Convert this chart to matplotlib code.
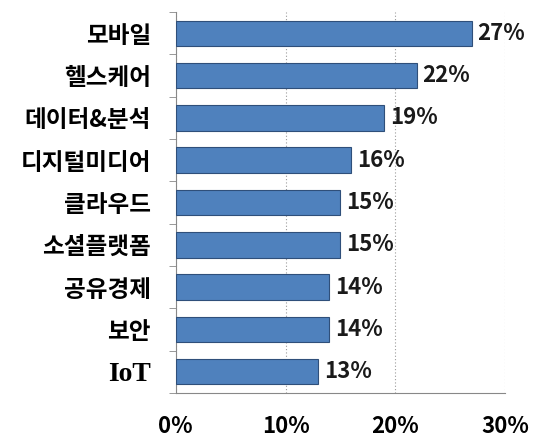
import matplotlib
matplotlib.use("Agg")
import matplotlib.pyplot as plt
import numpy as np

plt.rcParams['font.family'] = ['Noto Sans CJK KR', 'DejaVu Sans']

categories = ["모바일", "헬스케어", "데이터&분석", "디지털미디어", "클라우드",
              "소셜플랫폼", "공유경제", "보안", "IoT"]
values = [27, 22, 19, 16, 15, 15, 14, 14, 13]
x_ticks = [0, 10, 20, 30]
x_tick_labels = ["0%", "10%", "20%", "30%"]

fig = plt.figure(figsize=(5.36, 4.46), dpi=100)
ax = fig.add_axes([0.328, 0.119, 0.614, 0.854])

y = np.arange(len(categories))
ax.barh(y, values, height=0.6, color="#4F81BD", edgecolor="#2F4F7A", linewidth=0.8, zorder=3)

for yi, v in zip(y, values):
    ax.text(v + 0.5, yi, f"{v}%", va="center", ha="left", fontsize=16,
            fontweight="bold", color="#1a1a1a")

ax.set_ylim(len(categories) - 0.5, -0.5)
ax.set_xlim(0, 30)
ax.set_xticks(x_ticks)
ax.set_xticklabels(x_tick_labels, fontsize=16, fontweight="bold")
ax.set_yticks(y)
ax.set_yticklabels(categories, fontsize=17, fontweight="bold")
ax.tick_params(axis="y", length=0, pad=18)
ax.tick_params(axis="x", length=0, pad=16)

# Latin-only label looks serif in the original
for lbl in ax.get_yticklabels():
    if lbl.get_text() == "IoT":
        lbl.set_family(["Liberation Serif"])
        lbl.set_fontsize(20)

# category boundary ticks on y-axis
ax.set_yticks(np.arange(-0.5, len(categories), 1), minor=True)
ax.tick_params(axis="y", which="minor", length=5, color="#888888")
ax.set_xticks(x_ticks, minor=True)
ax.tick_params(axis="x", which="minor", length=7, color="#888888")

ax.xaxis.grid(True, linestyle=(0, (1, 2)), color="#9a9a9a", linewidth=0.8, zorder=0)
for s in ["top", "right"]:
    ax.spines[s].set_visible(False)
for s in ["left", "bottom"]:
    ax.spines[s].set_color("#888888")

fig.savefig("out.png", dpi=100)
